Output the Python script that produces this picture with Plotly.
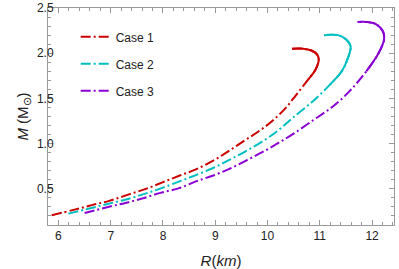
import plotly.graph_objects as go

# Case 1 (red)
R1 = [5.87, 6.29, 6.64, 6.97, 7.32, 7.66, 7.99, 8.31, 8.63, 8.97, 9.25, 9.55, 9.84, 10.09,
      10.34, 10.55, 10.78, 10.92, 10.98, 10.95, 10.84, 10.68, 10.47]
M1 = [0.208, 0.267, 0.320, 0.367, 0.433, 0.497, 0.571, 0.645, 0.715, 0.815, 0.915, 1.03, 1.14, 1.25,
      1.39, 1.54, 1.71, 1.82, 1.93, 1.985, 2.03, 2.05, 2.05]
# Case 2 (cyan)
R2 = [6.19, 6.61, 6.94, 7.29, 7.63, 7.96, 8.33, 8.63, 8.97, 9.27, 9.58, 9.89, 10.19, 10.46,
      10.87, 11.19, 11.42, 11.54, 11.59, 11.51, 11.35, 11.08]
M2 = [0.226, 0.285, 0.333, 0.382, 0.441, 0.505, 0.585, 0.652, 0.733, 0.82, 0.915, 1.02, 1.14, 1.275,
      1.47, 1.65, 1.80, 1.95, 2.08, 2.15, 2.20, 2.20]
# Case 3 (purple)
R3 = [6.50, 6.93, 7.28, 7.60, 7.95, 8.31, 8.63, 8.95, 9.27, 9.58, 9.90, 10.20, 10.50, 10.90,
      11.25, 11.57, 11.89, 12.11, 12.23, 12.21, 12.08, 11.89, 11.72]
M3 = [0.233, 0.297, 0.344, 0.393, 0.455, 0.508, 0.582, 0.645, 0.72, 0.81, 0.905, 1.005, 1.11, 1.27,
      1.41, 1.58, 1.80, 1.985, 2.15, 2.24, 2.32, 2.345, 2.345]

names = ["Case 1", "Case 2", "Case 3"]
colors = ["#cc0000", "#00bfbf", "#8a00d4"]
solid_from = [17, 16, 17]  # index where the dense top part looks solid

FONT = "Liberation Sans, Arial, sans-serif"
DASH = "10px,3px,2px,3px"

fig = go.Figure()
for i, (R, M) in enumerate([(R1, M1), (R2, M2), (R3, M3)]):
    fig.add_trace(go.Scatter(
        x=R, y=M, mode="lines", name=names[i], legendgroup=names[i],
        line=dict(color=colors[i], width=2, dash=DASH, shape="spline", smoothing=1.0),
    ))
    k = solid_from[i]
    fig.add_trace(go.Scatter(
        x=R[k - 1:], y=M[k - 1:], mode="lines", showlegend=False, legendgroup=names[i],
        line=dict(color=colors[i], width=2, shape="spline", smoothing=1.0),
        hoverinfo="skip",
    ))

axis_common = dict(
    showline=True, linecolor="#999999", linewidth=1, mirror="ticks",
    ticks="inside", ticklen=5, tickcolor="#999999", tickwidth=1,
    showgrid=False, zeroline=False, automargin=False,
    tickfont=dict(family=FONT, size=12, color="#222222"),
)

fig.update_xaxes(
    range=[5.8, 12.42], dtick=1, tick0=0, ticklabelstandoff=0,
    minor=dict(dtick=0.2, ticks="inside", ticklen=3, tickcolor="#999999", showgrid=False),
    title=dict(text="<i>R</i>(<i>km</i>)", font=dict(family=FONT, size=15, color="#222222"), standoff=15),
    **axis_common,
)
fig.update_yaxes(
    range=[0.1, 2.5], dtick=0.5, tick0=0, tickformat=".1f", ticklabelstandoff=-9,
    minor=dict(dtick=0.1, ticks="inside", ticklen=3, tickcolor="#999999", showgrid=False),
    title=dict(text="<i>M</i> (M<sub>⊙</sub>)", font=dict(family=FONT, size=15, color="#222222"), standoff=4),
    **axis_common,
)

fig.update_layout(
    width=399, height=269,
    margin=dict(l=48, r=5, t=8, b=44),
    paper_bgcolor="white", plot_bgcolor="white",
    font=dict(family=FONT, size=12, color="#222222"),
    legend=dict(x=0.080, y=0.934, xanchor="left", yanchor="top",
                bgcolor="rgba(0,0,0,0)", tracegroupgap=8,
                font=dict(family=FONT, size=12, color="#222222")),
    showlegend=True,
)

fig.write_html("out.html", config={"displayModeBar": False},
               post_script="document.body.style.margin='0';document.body.style.padding='0';")
